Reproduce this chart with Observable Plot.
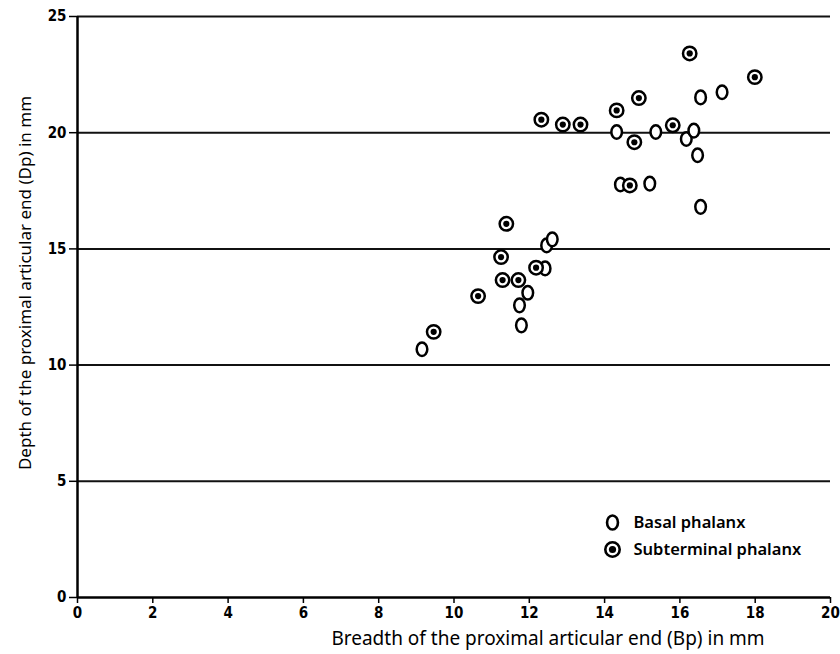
<!DOCTYPE html>
<html>
<head>
<meta charset="utf-8">
<script src="https://cdn.jsdelivr.net/npm/d3@7"></script>
<script src="https://cdn.jsdelivr.net/npm/@observablehq/plot@0.6"></script>
<style>
  html, body { margin: 0; padding: 0; background: #fff; }
</style>
</head>
<body>
<div id="chart"></div>
<script>
// Basal phalanx (open markers)
const basalBp = [9.15, 11.74, 11.79, 11.96, 12.42, 12.46, 12.61, 14.32, 14.42, 15.36, 15.20, 16.17, 16.37, 16.47, 16.55, 16.55, 17.12];
const basalDp = [10.68, 12.57, 11.71, 13.11, 14.16, 15.15, 15.41, 20.03, 17.77, 20.03, 17.81, 19.73, 20.09, 19.03, 16.81, 21.52, 21.74];
// Subterminal phalanx (ringed markers)
const subBp = [9.46, 10.64, 11.25, 11.39, 11.29, 11.71, 12.18, 12.32, 12.89, 13.36, 14.32, 14.67, 14.79, 14.91, 15.81, 16.26, 17.99];
const subDp = [11.43, 12.97, 14.65, 16.08, 13.66, 13.66, 14.19, 20.56, 20.35, 20.35, 20.96, 17.73, 19.59, 21.49, 20.32, 23.41, 22.39];

const xTicks = [0, 2, 4, 6, 8, 10, 12, 14, 16, 18, 20];
const yTicks = [0, 5, 10, 15, 20, 25];
const xLabel = "Breadth of the proximal articular end (Bp) in mm";
const yLabel = "Depth of the proximal articular end (Dp) in mm";
const legendLabels = ["Basal phalanx", "Subterminal phalanx"];

const basal = basalBp.map((x, i) => ({x, y: basalDp[i]}));
const sub = subBp.map((x, i) => ({x, y: subDp[i]}));

// vertical ellipse symbol
const ellipse = {
  draw(ctx, size) {
    const r = Math.sqrt(size / Math.PI);
    const rx = r * 0.78, ry = r;
    const k = 0.5523;
    ctx.moveTo(0, -ry);
    ctx.bezierCurveTo(k * rx, -ry, rx, -k * ry, rx, 0);
    ctx.bezierCurveTo(rx, k * ry, k * rx, ry, 0, ry);
    ctx.bezierCurveTo(-k * rx, ry, -rx, k * ry, -rx, 0);
    ctx.bezierCurveTo(-rx, -k * ry, -k * rx, -ry, 0, -ry);
    ctx.closePath();
  }
};

const labelFont = "'Noto Sans', 'Open Sans', sans-serif";
const tickFont = "'Liberation Sans Narrow', 'DejaVu Sans Condensed', sans-serif";

const chart = Plot.plot({
  width: 840,
  height: 654,
  marginLeft: 77,
  marginRight: 10,
  marginTop: 16,
  marginBottom: 57,
  style: {fontFamily: labelFont, background: "#fff", color: "#000"},
  x: {domain: [0, 20]},
  y: {domain: [0, 25]},
  marks: [
    Plot.ruleY(yTicks.filter(t => t > 0), {stroke: "#111", strokeWidth: 2}),
    Plot.ruleY([0], {stroke: "#000", strokeWidth: 2.5}),
    Plot.ruleX([0], {stroke: "#000", strokeWidth: 2.5}),
    Plot.axisX({ticks: xTicks, tickSize: 6, tickPadding: 4, tickFormat: d => d, label: null, fontSize: 15, fontWeight: "bold", fontFamily: tickFont, stroke: "#000", strokeWidth: 1.5}),
    Plot.axisY({ticks: yTicks, tickSize: 8, tickPadding: 3, tickFormat: d => d, label: null, fontSize: 15, fontWeight: "bold", fontFamily: tickFont, stroke: "#000", strokeWidth: 1.5}),
    Plot.dot(basal, {x: "x", y: "y", symbol: ellipse, r: 6.8, fill: "#fff", stroke: "#000", strokeWidth: 2.5}),
    Plot.dot(sub, {x: "x", y: "y", r: 6.7, fill: "#fff", stroke: "#000", strokeWidth: 2.5}),
    Plot.dot(sub, {x: "x", y: "y", r: 3.1, fill: "#000"}),
    // legend
    Plot.dot([legendLabels[0]], {frameAnchor: "top-left", dx: 535, dy: 506, symbol: ellipse, r: 7, fill: "#fff", stroke: "#000", strokeWidth: 2.6}),
    Plot.dot([legendLabels[1]], {frameAnchor: "top-left", dx: 535, dy: 533, r: 7.2, fill: "#fff", stroke: "#000", strokeWidth: 2.6}),
    Plot.dot([legendLabels[1]], {frameAnchor: "top-left", dx: 535, dy: 533, r: 3.6, fill: "#000"}),
    Plot.text([legendLabels[0]], {frameAnchor: "top-left", dx: 556, dy: 506, text: d => d, textAnchor: "start", lineAnchor: "middle", fontSize: 16.5, fontWeight: 600, fill: "#000"}),
    Plot.text([legendLabels[1]], {frameAnchor: "top-left", dx: 556, dy: 533, text: d => d, textAnchor: "start", lineAnchor: "middle", fontSize: 16.5, fontWeight: 600, fill: "#000"}),
    // axis titles
    Plot.text([xLabel], {frameAnchor: "bottom", dx: 94, dy: 41, text: d => d, textAnchor: "middle", lineAnchor: "middle", fontSize: 19, fill: "#000"}),
    Plot.text([yLabel], {frameAnchor: "left", dx: -52, dy: -24, rotate: -90, text: d => d, textAnchor: "middle", lineAnchor: "middle", fontSize: 17, fill: "#000"})
  ]
});
document.getElementById("chart").appendChild(chart);
</script>
</body>
</html>
